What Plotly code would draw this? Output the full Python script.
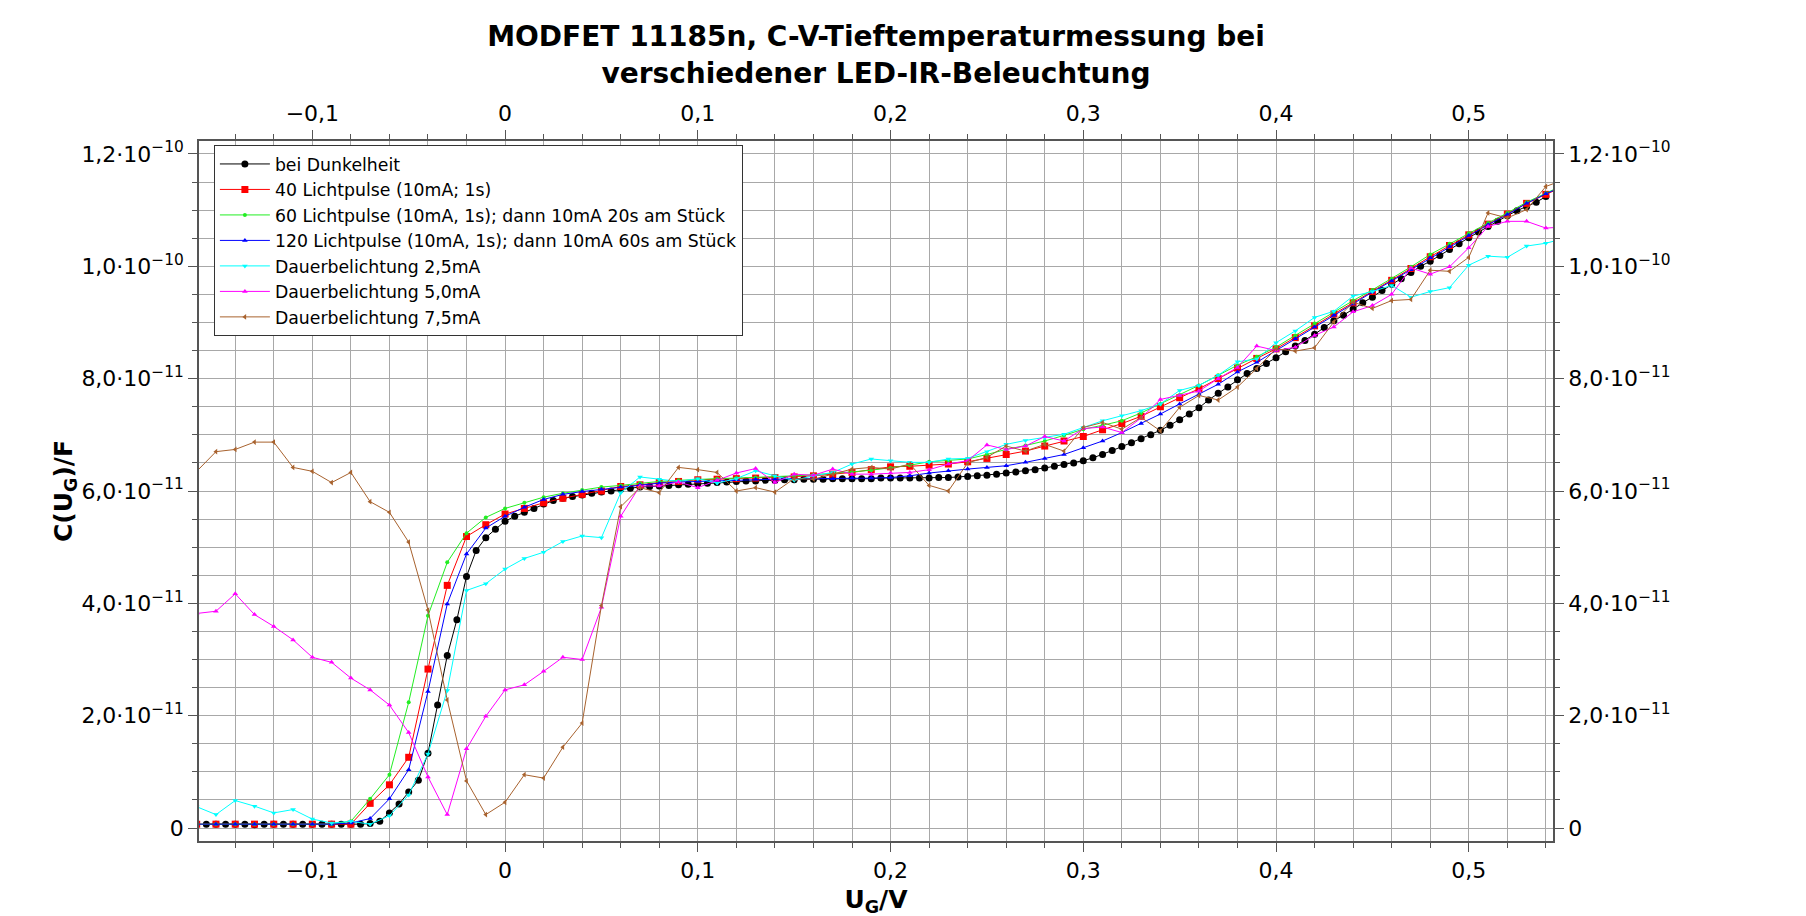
import numpy as np
import plotly.graph_objects as go

# ---------------- data (capacitance in units of 1e-11 F) ----------------
UNIT = 1e-11

# dark measurement: gate voltage -0.155 ... 0.54 V in 5 mV steps
u_dark = np.round(np.arange(-0.155, 0.5401, 0.005), 3)
c_dark = [
    0.07, 0.07, 0.07, 0.07, 0.07, 0.06, 0.07, 0.07, 0.07, 0.07, 0.07, 0.07, 0.07, 0.07, 0.07, 0.07, 0.07,
    0.08, 0.12, 0.27, 0.43, 0.64, 0.85, 1.33, 2.19, 3.07, 3.71, 4.48, 4.94, 5.17, 5.32,
    5.46, 5.55, 5.62, 5.69, 5.77, 5.83, 5.87, 5.90, 5.93, 5.96, 5.98, 6.00, 6.03, 6.05, 6.07, 6.08, 6.09, 6.10, 6.11, 6.12, 6.13,
    6.14, 6.15, 6.16, 6.17, 6.18, 6.18, 6.19, 6.19, 6.20, 6.20, 6.21, 6.21, 6.21, 6.22, 6.22, 6.22, 6.22, 6.22, 6.23, 6.23,
    6.23, 6.23, 6.23, 6.23, 6.24, 6.24, 6.25, 6.26, 6.27, 6.28, 6.30, 6.32, 6.34, 6.36, 6.38, 6.41, 6.44, 6.47, 6.50, 6.54,
    6.59, 6.65, 6.72, 6.79, 6.86, 6.93, 7.00, 7.08, 7.17, 7.27, 7.37, 7.48, 7.62, 7.74, 7.85, 7.98, 8.09, 8.18, 8.27, 8.37,
    8.48, 8.58, 8.68, 8.79, 8.91, 9.03, 9.13, 9.24, 9.35, 9.45, 9.57, 9.68, 9.78, 9.89, 10.00, 10.09, 10.19, 10.30, 10.40, 10.51,
    10.61, 10.71, 10.80, 10.90, 10.99, 11.06, 11.14, 11.24,
]

# illuminated measurements: -0.16 ... 0.55 V in 10 mV steps
u_light = np.round(np.arange(-0.16, 0.5501, 0.01), 3)

c_40pulse = [
    0.07, 0.07, 0.07, 0.07, 0.07, 0.07, 0.07, 0.07, 0.07,
    0.44, 0.77, 1.26, 2.83, 4.32, 5.19, 5.40,
    5.59, 5.69, 5.79, 5.87, 5.94, 6.00, 6.08, 6.11, 6.15, 6.17,
    6.20, 6.21, 6.22, 6.23, 6.24, 6.25, 6.27, 6.30, 6.33, 6.38,
    6.43, 6.44, 6.46, 6.48, 6.52, 6.58, 6.65, 6.71, 6.80, 6.89,
    6.97, 7.09, 7.20, 7.33, 7.50, 7.66, 7.82, 8.00, 8.19, 8.36,
    8.53, 8.73, 8.94, 9.15, 9.35, 9.55, 9.75, 9.96, 10.17, 10.37,
    10.56, 10.75, 10.93, 11.12, 11.28, 11.43,
]
c_60pulse = [
    0.07, 0.07, 0.07, 0.07, 0.07, 0.07, 0.07, 0.07,
    0.12, 0.52, 0.95, 2.24, 3.78, 4.73, 5.25, 5.53,
    5.69, 5.79, 5.89, 5.96, 6.02, 6.07, 6.10, 6.14, 6.17, 6.19,
    6.21, 6.22, 6.23, 6.24, 6.25, 6.27, 6.29, 6.31, 6.34, 6.37,
    6.41, 6.46, 6.52, 6.54, 6.57, 6.65, 6.74, 6.81, 6.89, 6.99,
    7.10, 7.17, 7.25, 7.39, 7.55, 7.71, 7.88, 8.06, 8.24, 8.39,
    8.56, 8.77, 8.98, 9.19, 9.39, 9.58, 9.78, 9.99, 10.21, 10.40,
    10.59, 10.77, 10.95, 11.14, 11.30, 11.46,
]
c_120pulse = [
    0.07, 0.07, 0.07, 0.07, 0.07, 0.07, 0.07, 0.07,
    0.09, 0.17, 0.52, 1.04, 2.43, 3.99, 4.88, 5.34,
    5.55, 5.71, 5.85, 5.94, 5.99, 6.03, 6.07, 6.11, 6.14, 6.16,
    6.17, 6.19, 6.20, 6.21, 6.21, 6.22, 6.22, 6.22, 6.23, 6.23,
    6.24, 6.27, 6.32, 6.36, 6.39, 6.42, 6.45, 6.51, 6.58, 6.65,
    6.77, 6.89, 7.04, 7.20, 7.37, 7.55, 7.72, 7.90, 8.12, 8.29,
    8.50, 8.71, 8.92, 9.13, 9.33, 9.54, 9.74, 9.94, 10.15, 10.35,
    10.55, 10.74, 10.92, 11.12, 11.29, 11.44,
]
c_dauer25 = [
    0.38, 0.24, 0.49, 0.39, 0.27, 0.33, 0.16, 0.09, 0.12, 0.07,
    0.22, 0.59, 1.32, 2.45, 4.23, 4.35,
    4.61, 4.80, 4.91, 5.10, 5.20, 5.17, 5.97, 6.25, 6.21, 6.17,
    6.22, 6.14, 6.22, 6.36, 6.27, 6.19, 6.27, 6.33, 6.48, 6.57,
    6.54, 6.51, 6.51, 6.57, 6.58, 6.70, 6.83, 6.90, 6.95, 7.01,
    7.13, 7.25, 7.34, 7.43, 7.55, 7.79, 7.88, 8.06, 8.30, 8.35,
    8.64, 8.85, 9.09, 9.20, 9.47, 9.55, 9.66, 9.45, 9.55, 9.62,
    10.02, 10.18, 10.16, 10.36, 10.41, 10.50,
]
c_dauer50 = [
    3.82, 3.86, 4.17, 3.80, 3.59, 3.35, 3.04, 2.95, 2.67, 2.46,
    2.19, 1.70, 0.91, 0.24, 1.41, 1.99,
    2.46, 2.55, 2.79, 3.04, 3.00, 3.93, 5.55, 6.09, 6.09, 6.16,
    6.06, 6.19, 6.32, 6.40, 6.15, 6.30, 6.28, 6.39, 6.30, 6.30,
    6.32, 6.33, 6.38, 6.48, 6.54, 6.82, 6.74, 6.80, 6.97, 6.89,
    7.11, 7.14, 7.04, 7.30, 7.63, 7.70, 7.78, 8.00, 8.20, 8.58,
    8.50, 8.56, 8.77, 8.92, 9.19, 9.30, 9.50, 9.97, 9.86, 9.99,
    10.33, 10.71, 10.80, 10.80, 10.68, 10.70,
]
c_dauer75 = [
    6.35, 6.70, 6.74, 6.87, 6.87, 6.42, 6.35, 6.15, 6.33, 5.81,
    5.62, 5.09, 3.88, 2.28, 0.84, 0.24,
    0.46, 0.95, 0.89, 1.44, 1.87, 3.96, 5.72, 6.06, 5.97, 6.42,
    6.38, 6.33, 6.00, 6.06, 5.98, 6.22, 6.21, 6.30, 6.39, 6.42,
    6.39, 6.48, 6.10, 6.00, 6.50, 6.60, 6.80, 6.71, 6.83, 6.71,
    7.13, 7.22, 7.10, 7.31, 7.07, 7.49, 7.70, 7.62, 7.85, 8.18,
    8.53, 8.49, 8.55, 9.01, 9.36, 9.25, 9.39, 9.41, 9.93, 9.91,
    10.16, 10.95, 10.86, 11.01, 11.42, 11.55,
]

x_ticks = [-0.1, 0, 0.1, 0.2, 0.3, 0.4, 0.5]
x_ticktext = ["\u22120,1", "0", "0,1", "0,2", "0,3", "0,4", "0,5"]
y_ticks = [0, 2e-11, 4e-11, 6e-11, 8e-11, 1.0e-10, 1.2e-10]
y_ticktext = ["0", "2,0\u00b710<sup>\u221211</sup>", "4,0\u00b710<sup>\u221211</sup>",
              "6,0\u00b710<sup>\u221211</sup>", "8,0\u00b710<sup>\u221211</sup>",
              "1,0\u00b710<sup>\u221210</sup>", "1,2\u00b710<sup>\u221210</sup>"]

X_RANGE = [-0.1588, 0.5437]
Y_RANGE = [-0.23e-11, 12.23e-11]

FONT = "DejaVu Sans, Verdana, sans-serif"
GRID = "#a8a8a8"
AXC = "#555555"

series = [
    ("bei Dunkelheit", u_dark, c_dark, "#000000", "circle", 7),
    ("40 Lichtpulse (10mA; 1s)", u_light, c_40pulse, "#ff0000", "square", 7),
    ("60 Lichtpulse (10mA, 1s); dann 10mA 20s am Stück", u_light, c_60pulse, "#22ee22", "circle", 4),
    ("120 Lichtpulse (10mA, 1s); dann 10mA 60s am Stück", u_light, c_120pulse, "#0000ff", "triangle-up", 5),
    ("Dauerbelichtung 2,5mA", u_light, c_dauer25, "#00ffff", "triangle-down", 5),
    ("Dauerbelichtung 5,0mA", u_light, c_dauer50, "#ff00ff", "triangle-up", 5),
    ("Dauerbelichtung 7,5mA", u_light, c_dauer75, "#a8622e", "triangle-left", 5),
]

fig = go.Figure()
for name, xs, ys, col, sym, sz in series:
    fig.add_trace(go.Scatter(
        x=xs, y=np.array(ys) * UNIT, name=name, mode="lines+markers",
        line=dict(color=col, width=1),
        marker=dict(color=col, symbol=sym, size=sz, line=dict(width=0)),
    ))

# invisible trace so that the mirrored top / right axes get drawn
fig.add_trace(go.Scatter(
    x=u_dark, y=np.array(c_dark) * UNIT, xaxis="x2", yaxis="y2",
    mode="lines", opacity=0, showlegend=False, hoverinfo="skip",
))

axis_common = dict(
    showline=True, linecolor=AXC, linewidth=1.5,
    ticks="outside", tickcolor=AXC, ticklen=9, tickwidth=1,
    tickfont=dict(family=FONT, size=22, color="#000000"),
    zeroline=False, automargin=False,
)

# page body has an 8 px margin: plot frame is shifted accordingly
fig.update_layout(
    width=1806, height=916,
    paper_bgcolor="white", plot_bgcolor="white",
    margin=dict(l=191, r=261, t=133, b=83),
    font=dict(family=FONT, color="#000000"),
    title=dict(
        text="<b>MODFET 11185n, C-V-Tieftemperaturmessung bei<br>verschiedener LED-IR-Beleuchtung</b>",
        x=0.5, xref="paper", xanchor="center",
        y=0.958, yref="container", yanchor="top",
        font=dict(family=FONT, size=28, color="#000000"),
    ),
    xaxis=dict(
        **axis_common, range=X_RANGE, tickvals=x_ticks, ticktext=x_ticktext,
        showgrid=True, gridcolor=GRID, gridwidth=1, mirror=True,
        minor=dict(dtick=0.02, tick0=0, ticks="outside", ticklen=5, tickcolor=AXC,
                   showgrid=True, gridcolor=GRID, gridwidth=1),
        title=dict(text="<b>U<sub>G</sub>/V</b>", font=dict(family=FONT, size=25), standoff=8),
    ),
    xaxis2=dict(
        **axis_common, range=X_RANGE, tickvals=x_ticks, ticktext=x_ticktext,
        overlaying="x", side="top", anchor="y", showgrid=False,
        minor=dict(dtick=0.02, tick0=0, ticks="outside", ticklen=5, tickcolor=AXC, showgrid=False),
    ),
    yaxis=dict(
        **axis_common, range=Y_RANGE, tickvals=y_ticks, ticktext=y_ticktext,
        showgrid=True, gridcolor=GRID, gridwidth=1, mirror=True,
        minor=dict(dtick=0.5e-11, tick0=0, ticks="outside", ticklen=5, tickcolor=AXC,
                   showgrid=True, gridcolor=GRID, gridwidth=1),
        title=dict(text="<b>C(U<sub>G</sub>)/F</b>", font=dict(family=FONT, size=25), standoff=2),
    ),
    yaxis2=dict(
        **axis_common, range=Y_RANGE, tickvals=y_ticks, ticktext=y_ticktext,
        overlaying="y", side="right", anchor="x", showgrid=False,
        minor=dict(dtick=0.5e-11, tick0=0, ticks="outside", ticklen=5, tickcolor=AXC, showgrid=False),
    ),
    legend=dict(
        x=0.011, y=0.994, xanchor="left", yanchor="top",
        bgcolor="white", bordercolor="#333333", borderwidth=1,
        font=dict(family=FONT, size=17.3, color="#000000"),
        tracegroupgap=0, itemwidth=50,
    ),
    showlegend=True,
)

fig.write_html("out.html")
